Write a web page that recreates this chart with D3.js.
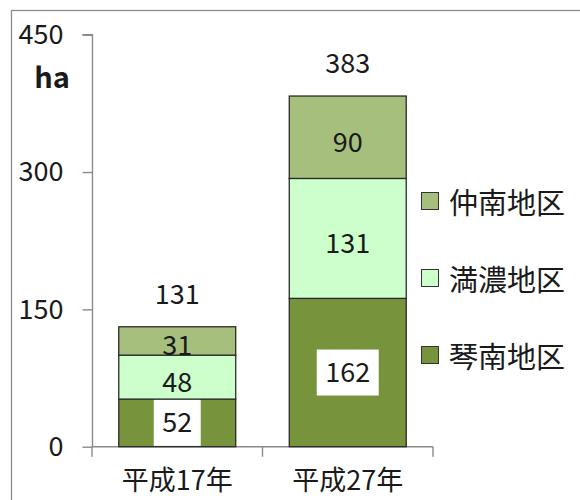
<!DOCTYPE html>
<html>
<head>
<meta charset="utf-8">
<script src="https://cdn.jsdelivr.net/npm/d3@7"></script>
<style>
  html, body { margin: 0; padding: 0; background: #fff; }
  svg { display: block; }
  text { font-family: "Noto Sans CJK JP", "Noto Sans", sans-serif; fill: #1a1a1a; }
</style>
</head>
<body>
<div id="chart"></div>
<script>
// 地区別の面積（ha）
const years = ["平成17年", "平成27年"];
const districts = ["琴南地区", "満濃地区", "仲南地区"];
const kotonami = [52, 162];
const mannou = [48, 131];
const chunan = [31, 90];
const totals = [131, 383];
const yTicks = [0, 150, 300, 450];
const colors = ["#77933c", "#ccffcc", "#a6bf7d"];

const W = 580, H = 500;
const numSize = 27;
const svg = d3.select("#chart").append("svg").attr("width", W).attr("height", H);

// 外枠
svg.append("rect")
  .attr("x", 11.5).attr("y", 10.5)
  .attr("width", W + 20).attr("height", H + 20)
  .attr("fill", "none").attr("stroke", "#8c8c8c").attr("stroke-width", 1.3);

const rows = years.map((y, i) => ({
  year: y,
  "琴南地区": kotonami[i],
  "満濃地区": mannou[i],
  "仲南地区": chunan[i]
}));
const stacked = d3.stack().keys(districts)(rows);

const x = d3.scaleBand().domain(years).range([92, 433]).paddingInner(0.314).paddingOuter(0.157);
const yScale = d3.scaleLinear().domain([0, 450]).range([446.7, 34.7]);

// 縦軸
const yAxis = svg.append("g")
  .attr("transform", "translate(92.5,0)")
  .call(d3.axisLeft(yScale).tickValues(yTicks).tickSize(10).tickPadding(19).tickFormat(d3.format("d")));
yAxis.selectAll("path, line").attr("stroke", "#8a8a8a").attr("stroke-width", 1.4);
yAxis.select(".domain").attr("d", `M-10,${yScale(450)}H0V${yScale(0)}`);
yAxis.selectAll("text").attr("font-size", numSize).attr("font-family", "Noto Sans CJK JP").attr("fill", "#1a1a1a");

// 単位
svg.append("text").attr("x", 52).attr("y", 88).attr("text-anchor", "middle")
  .attr("font-size", 29).attr("font-weight", "bold").text("ha");

// 横軸
const xAxisG = svg.append("g").attr("transform", `translate(0,${yScale(0)})`);
xAxisG.append("line").attr("x1", 92).attr("x2", 433).attr("stroke", "#8a8a8a").attr("stroke-width", 1.4);
xAxisG.selectAll("line.tk").data([92, (92 + 433) / 2, 433]).join("line")
  .attr("class", "tk").attr("x1", d => d).attr("x2", d => d).attr("y1", 0).attr("y2", 10)
  .attr("stroke", "#8a8a8a").attr("stroke-width", 1.4);
svg.selectAll("text.cat").data(years).join("text")
  .attr("class", "cat")
  .attr("x", d => x(d) + x.bandwidth() / 2)
  .attr("y", 490)
  .attr("text-anchor", "middle").attr("font-size", 27)
  .text(d => d);

// 積み上げ棒
const layers = svg.selectAll("g.layer").data(stacked).join("g")
  .attr("class", "layer").attr("fill", (d, i) => colors[i]);
layers.selectAll("rect").data(d => d.map(s => ({ s, key: d.key }))).join("rect")
  .attr("x", d => x(d.s.data.year))
  .attr("y", d => yScale(d.s[1]))
  .attr("width", x.bandwidth())
  .attr("height", d => yScale(d.s[0]) - yScale(d.s[1]))
  .attr("stroke", "#2a2a2a").attr("stroke-width", 1.3);

// 値ラベル
stacked.forEach((layer, li) => {
  layer.forEach(s => {
    const cx = x(s.data.year) + x.bandwidth() / 2;
    const cy = (yScale(s[0]) + yScale(s[1])) / 2;
    const g = svg.append("g");
    const t = g.append("text")
      .attr("x", cx).attr("y", cy + (li === 0 ? -2 : 3))
      .attr("text-anchor", "middle").attr("dominant-baseline", "central")
      .attr("font-size", numSize)
      .text(s[1] - s[0]);
    if (li === 0) {
      const bb = t.node().getBBox();
      g.insert("rect", "text")
        .attr("x", cx - bb.width / 2 - 8.5).attr("y", cy - 23)
        .attr("width", bb.width + 17).attr("height", 46)
        .attr("fill", "#fff");
    }
  });
});

// 合計ラベル
svg.selectAll("text.total").data(years).join("text")
  .attr("class", "total")
  .attr("x", d => x(d) + x.bandwidth() / 2)
  .attr("y", (d, i) => yScale(totals[i]) - 23)
  .attr("text-anchor", "middle").attr("font-size", numSize)
  .text((d, i) => totals[i]);

// 凡例（上から仲南・満濃・琴南）
const legendOrder = [2, 1, 0];
const lg = svg.selectAll("g.legend").data(legendOrder).join("g")
  .attr("class", "legend")
  .attr("transform", (d, i) => `translate(421,${201 + i * 77})`);
lg.append("rect").attr("x", 0.5).attr("y", -8.5).attr("width", 17).attr("height", 17)
  .attr("fill", d => colors[d]).attr("stroke", "#333").attr("stroke-width", 1);
lg.append("text").attr("x", 28).attr("y", 0).attr("dominant-baseline", "central")
  .attr("font-size", 29).text(d => districts[d]);
</script>
</body>
</html>
